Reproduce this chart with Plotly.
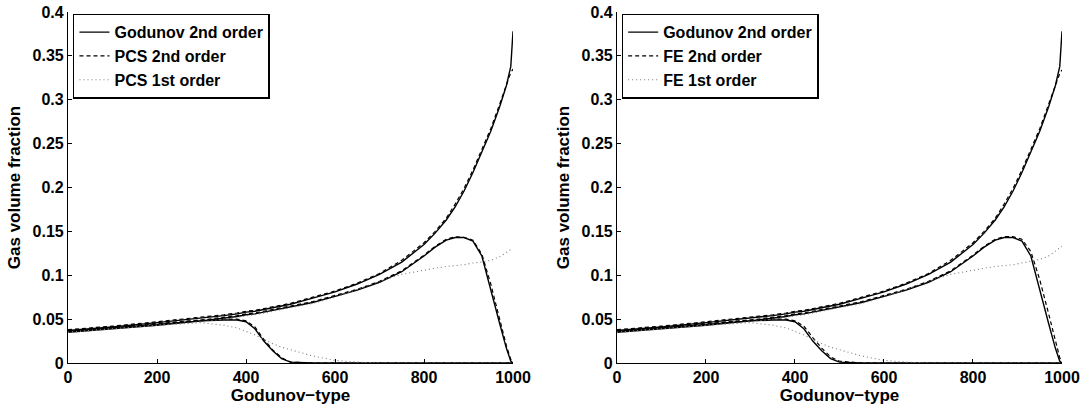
import plotly.graph_objects as go
from plotly.subplots import make_subplots

# grid of Godunov-type positions shared by every curve
x_grid = [0, 100, 200, 300, 350, 380, 400, 420, 440, 460, 480, 500, 550, 600, 650, 700,
          750, 800, 825, 850, 870, 890, 910, 930, 950, 970, 985, 995, 1000]

# left panel (PCS)
god_upper_L = [0.037, 0.041, 0.046, 0.051, 0.054, 0.056, 0.058, 0.059, 0.061, 0.063, 0.065, 0.067, 0.074, 0.081, 0.090, 0.101,
               0.115, 0.135, 0.148, 0.163, 0.178, 0.196, 0.217, 0.240, 0.264, 0.292, 0.316, 0.338, 0.378]
god_middle_L = [0.035, 0.039, 0.043, 0.048, 0.051, 0.053, 0.055, 0.056, 0.058, 0.060, 0.062, 0.064, 0.069, 0.076, 0.083, 0.092,
                0.104, 0.122, 0.132, 0.140, 0.143, 0.143, 0.139, 0.122, 0.085, 0.045, 0.017, 0.002, 0.0]
god_lower_L = [0.036, 0.040, 0.044, 0.048, 0.049, 0.049, 0.047, 0.039, 0.025, 0.014, 0.005, 0.001, 0.0, 0.0, 0.0, 0.0,
               0.0, 0.0, 0.0, 0.0, 0.0, 0.0, 0.0, 0.0, 0.0, 0.0, 0.0, 0.0, 0.0]
pcs2_upper = [0.038, 0.042, 0.047, 0.052, 0.055, 0.057, 0.059, 0.060, 0.062, 0.064, 0.066, 0.068, 0.075, 0.082, 0.091, 0.102,
              0.117, 0.137, 0.150, 0.165, 0.181, 0.199, 0.220, 0.243, 0.267, 0.295, 0.317, 0.331, 0.335]
pcs2_middle = [0.036, 0.040, 0.044, 0.049, 0.052, 0.054, 0.056, 0.057, 0.059, 0.061, 0.063, 0.065, 0.070, 0.077, 0.084, 0.093,
               0.105, 0.123, 0.133, 0.141, 0.144, 0.143, 0.140, 0.124, 0.090, 0.050, 0.020, 0.004, 0.001]
pcs2_lower = [0.037, 0.041, 0.045, 0.049, 0.050, 0.050, 0.048, 0.041, 0.027, 0.015, 0.006, 0.001, 0.0, 0.0, 0.0, 0.0,
              0.0, 0.0, 0.0, 0.0, 0.0, 0.0, 0.0, 0.0, 0.0, 0.0, 0.0, 0.0, 0.0]
pcs1_high = [0.035, 0.039, 0.043, 0.047, 0.050, 0.052, 0.054, 0.055, 0.057, 0.059, 0.061, 0.063, 0.068, 0.075, 0.084, 0.093,
             0.101, 0.106, 0.108, 0.110, 0.111, 0.112, 0.114, 0.115, 0.117, 0.121, 0.126, 0.130, 0.131]
pcs1_low = [0.035, 0.039, 0.043, 0.046, 0.043, 0.040, 0.036, 0.032, 0.027, 0.022, 0.018, 0.015, 0.008, 0.003, 0.001, 0.0,
            0.0, 0.0, 0.0, 0.0, 0.0, 0.0, 0.0, 0.0, 0.0, 0.0, 0.0, 0.0, 0.0]

# right panel (FE)
god_upper_R = [0.037, 0.041, 0.046, 0.051, 0.054, 0.056, 0.058, 0.059, 0.061, 0.063, 0.065, 0.067, 0.074, 0.081, 0.090, 0.101,
               0.115, 0.135, 0.148, 0.163, 0.178, 0.196, 0.217, 0.240, 0.264, 0.292, 0.316, 0.338, 0.378]
god_middle_R = [0.035, 0.039, 0.043, 0.048, 0.051, 0.053, 0.055, 0.056, 0.058, 0.060, 0.062, 0.064, 0.069, 0.076, 0.083, 0.092,
                0.104, 0.122, 0.132, 0.140, 0.143, 0.143, 0.139, 0.122, 0.085, 0.045, 0.017, 0.002, 0.0]
god_lower_R = [0.036, 0.040, 0.044, 0.048, 0.049, 0.049, 0.047, 0.039, 0.025, 0.014, 0.005, 0.001, 0.0, 0.0, 0.0, 0.0,
               0.0, 0.0, 0.0, 0.0, 0.0, 0.0, 0.0, 0.0, 0.0, 0.0, 0.0, 0.0, 0.0]
fe2_upper = [0.038, 0.042, 0.047, 0.052, 0.055, 0.057, 0.059, 0.060, 0.062, 0.064, 0.066, 0.068, 0.075, 0.082, 0.091, 0.102,
             0.117, 0.137, 0.150, 0.165, 0.181, 0.199, 0.220, 0.243, 0.267, 0.295, 0.317, 0.330, 0.334]
fe2_middle = [0.036, 0.040, 0.044, 0.049, 0.052, 0.054, 0.056, 0.057, 0.059, 0.061, 0.063, 0.065, 0.070, 0.077, 0.084, 0.093,
              0.105, 0.123, 0.133, 0.141, 0.144, 0.144, 0.141, 0.127, 0.095, 0.056, 0.024, 0.006, 0.002]
fe2_lower = [0.037, 0.041, 0.045, 0.049, 0.050, 0.050, 0.048, 0.042, 0.029, 0.017, 0.007, 0.002, 0.0, 0.0, 0.0, 0.0,
             0.0, 0.0, 0.0, 0.0, 0.0, 0.0, 0.0, 0.0, 0.0, 0.0, 0.0, 0.0, 0.0]
fe1_high = [0.035, 0.039, 0.043, 0.047, 0.050, 0.052, 0.054, 0.055, 0.057, 0.059, 0.061, 0.063, 0.068, 0.075, 0.084, 0.093,
            0.101, 0.106, 0.108, 0.110, 0.111, 0.112, 0.114, 0.116, 0.118, 0.122, 0.128, 0.132, 0.133]
fe1_low = [0.035, 0.039, 0.043, 0.046, 0.043, 0.040, 0.036, 0.032, 0.027, 0.022, 0.018, 0.015, 0.008, 0.003, 0.001, 0.0,
           0.0, 0.0, 0.0, 0.0, 0.0, 0.0, 0.0, 0.0, 0.0, 0.0, 0.0, 0.0, 0.0]

panels = [
    ("legend", ["Godunov 2nd order", "PCS 2nd order", "PCS 1st order"],
     [god_upper_L, god_middle_L, god_lower_L], [pcs2_upper, pcs2_middle, pcs2_lower], [pcs1_high, pcs1_low]),
    ("legend2", ["Godunov 2nd order", "FE 2nd order", "FE 1st order"],
     [god_upper_R, god_middle_R, god_lower_R], [fe2_upper, fe2_middle, fe2_lower], [fe1_high, fe1_low]),
]

styles = [dict(color="black", width=1.4, dash="solid"),
          dict(color="black", width=1.2, dash="4px,3px"),
          dict(color="#7a7a7a", width=1.1, dash="1px,3px")]

FONT = "Liberation Sans"

fig = make_subplots(rows=1, cols=2, horizontal_spacing=0.1046)

for col, (leg, names, solid, dashed, dotted) in enumerate(panels, start=1):
    groups = [solid, dashed, dotted]
    for k, curves in enumerate(groups):
        for j, y in enumerate(curves):
            fig.add_trace(go.Scatter(x=x_grid, y=y, mode="lines", name=names[k],
                                     legendgroup=f"{leg}_{k}", showlegend=(j == 0),
                                     legend=leg, line=styles[k], cliponaxis=False),
                          row=1, col=col)

axis_common = dict(showline=True, linecolor="black", linewidth=1.2, ticks="inside", ticklen=4,
                   tickcolor="black", showgrid=False, zeroline=False, mirror=False, automargin=False,
                   ticklabeloverflow="allow",
                   tickfont=dict(family=FONT, size=16, color="black", weight="bold"))

for col in (1, 2):
    fig.update_xaxes(range=[0, 1000], tickvals=[0, 200, 400, 600, 800, 1000],
                     title=dict(text="Godunov\u2212type", standoff=1,
                                font=dict(family=FONT, size=17, color="black", weight="bold")),
                     row=1, col=col, **axis_common)
    fig.update_yaxes(range=[0, 0.4], tickvals=[0, 0.05, 0.1, 0.15, 0.2, 0.25, 0.3, 0.35, 0.4],
                     ticktext=["0", "0.05", "0.1", "0.15", "0.2", "0.25", "0.3", "0.35", "0.4"],
                     title=dict(text="Gas volume fraction", standoff=7,
                                font=dict(family=FONT, size=17, color="black", weight="bold")),
                     row=1, col=col, **axis_common)

legend_style = dict(xanchor="left", yanchor="top", bgcolor="white", bordercolor="black", borderwidth=1.5,
                    font=dict(family=FONT, size=16, color="black", weight="bold"),
                    itemwidth=30, tracegroupgap=0)

fig.update_layout(
    width=1084, height=405,
    margin=dict(l=68, r=22, t=12, b=42),
    plot_bgcolor="white", paper_bgcolor="white",
    legend=dict(x=0.005, y=0.995, **legend_style),
    legend2=dict(x=0.557, y=0.995, **legend_style),
)

# drop the default 8px page margin so the figure sits at the window corner
fig.write_html("out.html", config={"displayModeBar": False},
               post_script="document.body.style.margin = '0';")
